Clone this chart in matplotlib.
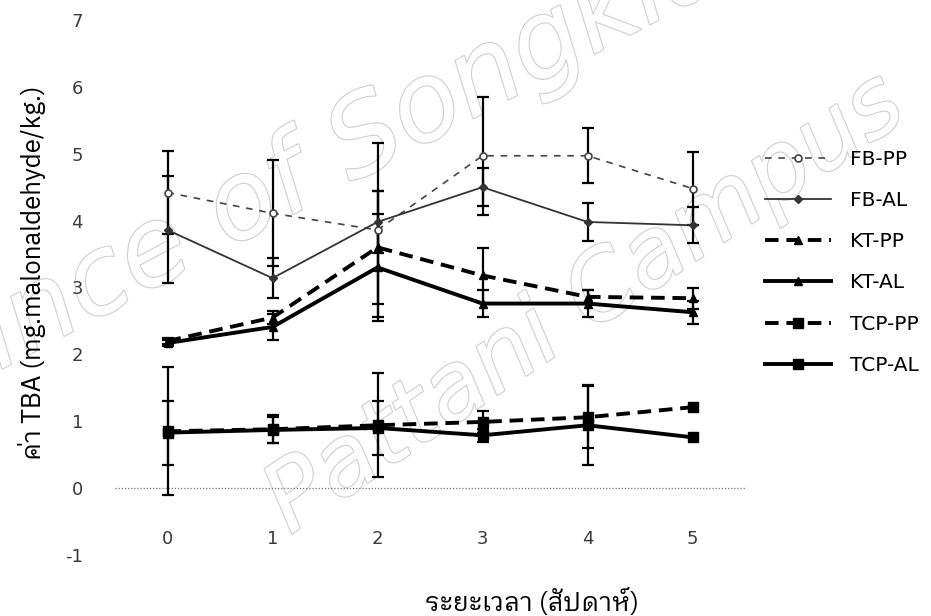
import matplotlib
matplotlib.use("Agg")
import matplotlib.pyplot as plt
import matplotlib.patheffects as pe

plt.rcParams["axes.unicode_minus"] = False

# TBA values (mean and error per week)
weeks = [0, 1, 2, 3, 4, 5]
labels = ["FB-PP", "FB-AL", "KT-PP", "KT-AL", "TCP-PP", "TCP-AL"]

fb_pp = [4.42, 4.11, 3.86, 4.97, 4.97, 4.48]
fb_pp_err = [0.62, 0.79, 1.30, 0.88, 0.41, 0.55]
fb_al = [3.86, 3.14, 3.98, 4.50, 3.98, 3.93]
fb_al_err = [0.80, 0.30, 0.46, 0.28, 0.29, 0.27]
kt_pp = [2.20, 2.55, 3.60, 3.18, 2.86, 2.84]
kt_pp_err = [0.05, 0.10, 0.84, 0.41, 0.11, 0.16]
kt_al = [2.17, 2.41, 3.30, 2.76, 2.76, 2.63]
kt_al_err = [0.05, 0.20, 0.80, 0.20, 0.20, 0.17]
tcp_pp = [0.85, 0.88, 0.94, 0.99, 1.06, 1.21]
tcp_pp_err = [0.96, 0.21, 0.78, 0.16, 0.46, 0.0]
tcp_al = [0.83, 0.87, 0.90, 0.79, 0.94, 0.76]
tcp_al_err = [0.48, 0.20, 0.40, 0.10, 0.60, 0.0]

yticks = [-1, 0, 1, 2, 3, 4, 5, 6, 7]
thai = ["IBM Plex Sans Thai Looped", "DejaVu Sans"]

fig = plt.figure(figsize=(9.31, 6.16), dpi=100)
ax = fig.add_axes([115 / 931, 1 - 555 / 616, 630 / 931, 535 / 616])
ax.patch.set_visible(False)

# watermark
wm = dict(color="white", style="italic", family="DejaVu Sans",
          rotation_mode="anchor", ha="left", va="baseline", zorder=-1,
          path_effects=[pe.withStroke(linewidth=1.6, foreground="#cfcfcf")])
fig.text(-98 / 931, 1 - 422 / 616, "Prince of Songkla University",
         fontsize=78, rotation=28, **wm)
fig.text(290 / 931, 1 - 535 / 616, "Pattani Campus",
         fontsize=68, rotation=34, **wm)

series = [
    (fb_pp, fb_pp_err, dict(ls=(0, (4, 4)), lw=1.2, color="#444444", marker="o", ms=5, mfc="white", mew=1.2)),
    (fb_al, fb_al_err, dict(ls="-", lw=1.3, color="#333333", marker="D", ms=4.5)),
    (kt_pp, kt_pp_err, dict(ls=(0, (3.5, 2)), lw=2.8, color="black", marker="^", ms=6)),
    (kt_al, kt_al_err, dict(ls="-", lw=2.8, color="black", marker="^", ms=6)),
    (tcp_pp, tcp_pp_err, dict(ls=(0, (3.5, 2)), lw=2.8, color="black", marker="s", ms=6.5)),
    (tcp_al, tcp_al_err, dict(ls="-", lw=2.8, color="black", marker="s", ms=6.5)),
]

ax.axhline(0, color="#777777", lw=0.9, ls=(0, (1, 1.5)), zorder=1)

for (vals, errs, style), name in zip(series, labels):
    ax.errorbar(weeks, vals, yerr=errs, fmt="none", ecolor="black",
                elinewidth=1.6, capsize=4, capthick=1.6, zorder=2)
    ax.plot(weeks, vals, label=name, zorder=3, **style)

ax.set_xlim(-0.5, 5.5)
ax.set_ylim(-1, 7)
ax.set_xticks(weeks)
ax.set_yticks(yticks)
ax.tick_params(axis="x", length=0, pad=-18, labelsize=13, labelcolor="#3a3a3a")
ax.tick_params(axis="y", length=0, pad=23, labelsize=13, labelcolor="#3a3a3a")
for s in ax.spines.values():
    s.set_visible(False)

fig.text(32 / 931, 1 - 273 / 616, "ค่า TBA (mg.malonaldehyde/kg.)", rotation=90,
         ha="center", va="center", fontsize=18.5, family=thai)
fig.text(532 / 931, 1 - 602 / 616, "ระยะเวลา (สัปดาห์)", ha="center", va="center",
         fontsize=18.5, family=thai)

fig.legend(loc="upper left", bbox_to_anchor=(765 / 931, 1 - 150 / 616),
           bbox_transform=fig.transFigure, frameon=False, borderpad=0,
           borderaxespad=0, handlelength=3.3, handletextpad=0.9,
           labelspacing=1.1, prop={"family": "DejaVu Sans", "size": 14.5})

fig.savefig("out.png")
